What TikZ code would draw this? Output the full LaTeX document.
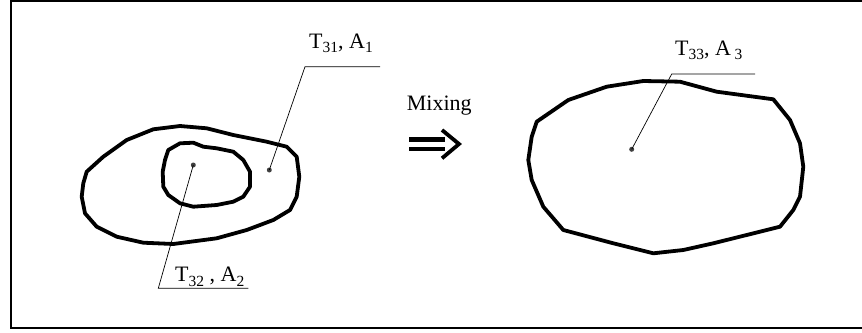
\documentclass[tikz,border=0pt]{standalone}
\usepackage{fontspec}
\setmainfont{Liberation Serif}
\newcommand{\mysub}[1]{\raisebox{-4.5pt}{\fontsize{15.5}{17}\selectfont #1}}
\begin{document}
\begin{tikzpicture}[x=1pt,y=-1pt,
  blob/.style={line width=3.8pt,line join=round},
  leader/.style={line width=0.7pt},
  dotmark/.style={circle,fill=black!75,inner sep=0pt,minimum size=5pt},
  lbl/.style={font=\fontsize{22}{25}\selectfont,inner sep=0pt,anchor=base west},
  frame/.style={line width=2pt}]
\useasboundingbox (0,0) rectangle (862,332);
\draw[frame] (11,1) rectangle (868,327.7);

% left outer region
\draw[blob] (86.7,171.7) -- (103.3,156.7) -- (126.7,140) -- (153.3,129.3) -- (180,126) -- (206.7,128.3) -- (233.3,135) -- (266.7,141.7) -- (286.7,146.7) -- (296.7,156.7) -- (299.3,176.7) -- (296.7,196.7) -- (290,210) -- (273.3,220) -- (246.7,230) -- (216.7,238.3) -- (173.3,244) -- (143.3,242.7) -- (116.7,236.7) -- (96.7,226.7) -- (85,213.3) -- (81.7,196.7) -- (83.3,183.3) -- cycle;
% left inner region
\draw[blob] (168.3,150) -- (180,143.3) -- (193.3,142.7) -- (203.3,146.7) -- (216.7,148.3) -- (233.3,151.7) -- (243.3,160) -- (250,171.7) -- (250,186.7) -- (243.3,196.7) -- (233.3,201.7) -- (216.7,205) -- (193.3,206.7) -- (180,203.3) -- (168.3,195) -- (163.3,186.7) -- (162.7,171.7) -- (165,160) -- cycle;
% right region
\draw[blob] (536.7,121.7) -- (568.3,100) -- (606.7,86.7) -- (643.3,81) -- (680,81.7) -- (716.7,91.7) -- (773.3,99.3) -- (790,120) -- (800,143.3) -- (803.3,166.7) -- (800,196.7) -- (793.3,210) -- (780,226.7) -- (713.3,243.3) -- (683.3,250) -- (653.3,253.3) -- (613.3,243.3) -- (563.3,230) -- (543.3,206.7) -- (531.7,180) -- (528.3,160) -- (531.7,136.7) -- cycle;

% dots
\node[dotmark] (d1) at (269.3,170) {};
\node[dotmark] (d2) at (193.3,165) {};
\node[dotmark] (d3) at (631.7,149.3) {};

% leader corners
\coordinate (k1) at (305,66.7);  \coordinate (e1) at (380,66.7);
\coordinate (k2) at (158.3,288.3); \coordinate (e2) at (248.3,288.3);
\coordinate (k3) at (671.7,74);  \coordinate (e3) at (755,74);
\draw[leader] (d1.center) -- (k1) -- (e1);
\draw[leader] (d2.center) -- (k2) -- (e2);
\draw[leader] (d3.center) -- (k3) -- (e3);

% labels
\node[lbl] (t1) at (309,48.3) {T\mysub{31}, A\mysub{1}};
\node[lbl] (t2) at (175,281.7) {T\mysub{32} , A\mysub{2}};
\node[lbl] (t3) at (675,55) {T\mysub{33}, A\,\mysub{3}};
\node[lbl] (mix) at (406.7,110) {Mixing};

% double arrow
\coordinate (b1s) at (409,139.5); \coordinate (b1e) at (445,139.5);
\coordinate (b2s) at (409,148.7); \coordinate (b2e) at (445,148.7);
\coordinate (c1) at (442,130); \coordinate (c2) at (459,144); \coordinate (c3) at (442,158.3);
\draw[line width=4.2pt] (b1s) -- (b1e);
\draw[line width=4.2pt] (b2s) -- (b2e);
\draw[line width=3.8pt,line join=miter] (c1) -- (c2) -- (c3);
\end{tikzpicture}
\end{document}
